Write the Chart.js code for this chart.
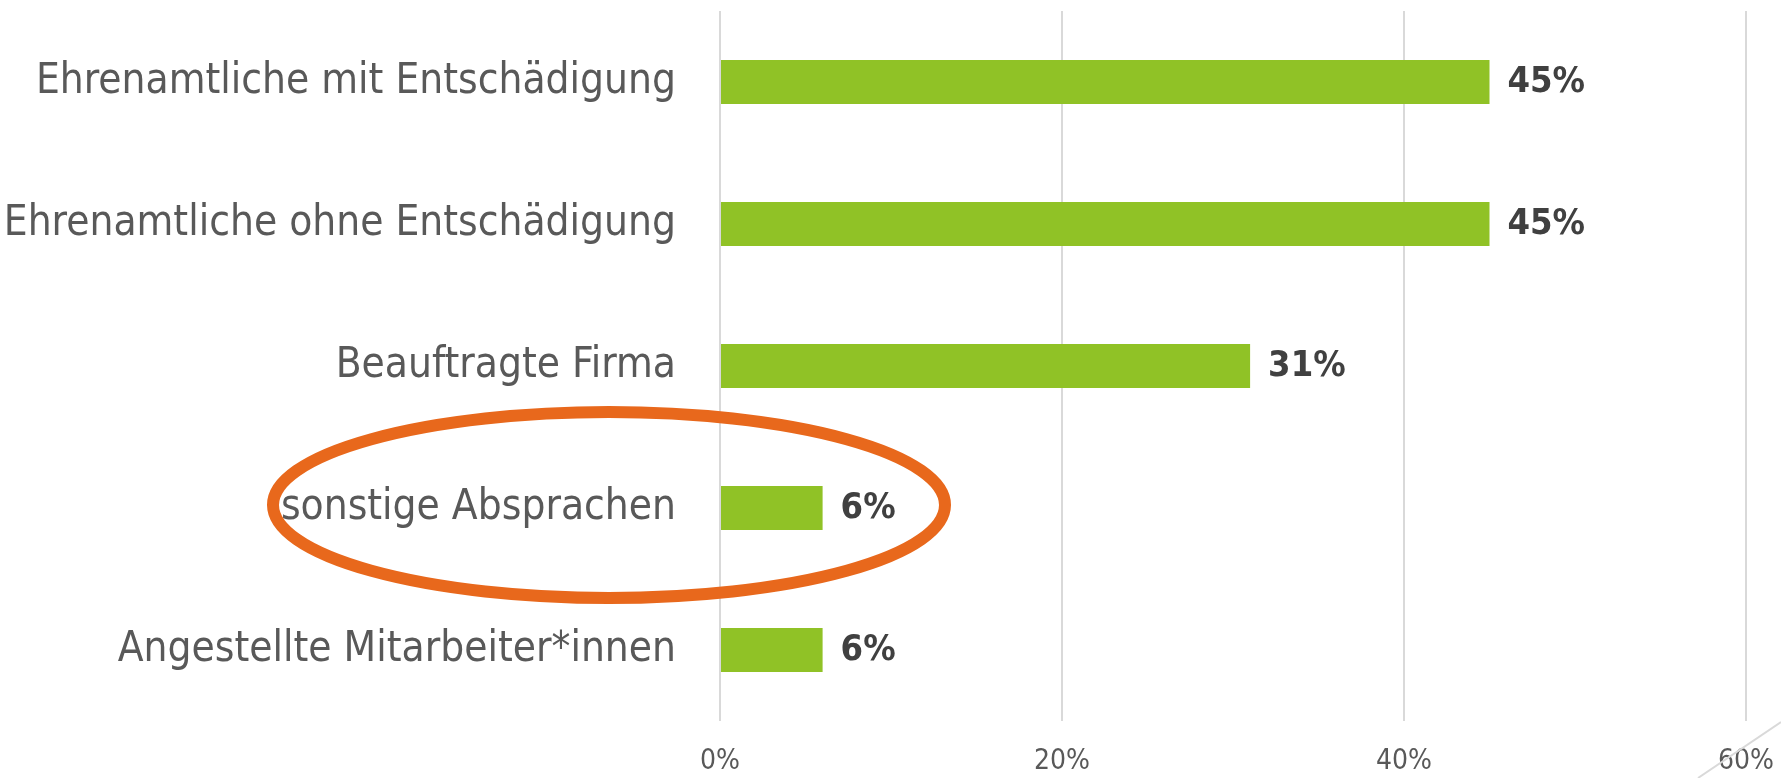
<!DOCTYPE html>
<html>
<head>
<meta charset="utf-8">
<script src="https://cdn.jsdelivr.net/npm/chart.js@4.4.0/dist/chart.umd.min.js"></script>
<style>
  body { margin: 0; background: #fff; }
  #wrap { width: 1781px; height: 778px; position: relative; }
</style>
</head>
<body>
<div id="wrap"><canvas id="chart"></canvas></div>
<script>
const categories = [
    'Ehrenamtliche mit Entschädigung',
    'Ehrenamtliche ohne Entschädigung',
    'Beauftragte Firma',
    'sonstige Absprachen',
    'Angestellte Mitarbeiter*innen'
]
const shares = [45, 45, 31, 6, 6]
const xTicks = [0, 20, 40, 60]
const highlighted = 'sonstige Absprachen'

const labelFont = "'DejaVu Sans Condensed', 'DejaVu Sans', sans-serif"

// value labels at the end of each bar
const valueLabels = {
    id: 'valueLabels',
    afterDatasetsDraw(chart) {
        const ctx = chart.ctx
        const meta = chart.getDatasetMeta(0)
        ctx.save()
        ctx.fillStyle = '#404040'
        ctx.font = 'bold 36px ' + labelFont
        ctx.textBaseline = 'middle'
        ctx.textAlign = 'left'
        meta.data.forEach((bar, i) => {
            ctx.fillText(shares[i] + '%', bar.x + 18, bar.y + 1)
        })
        ctx.restore()
    }
}

// orange ring around the highlighted category + corner line of the slide
const annotations = {
    id: 'annotations',
    afterDraw(chart) {
        const ctx = chart.ctx
        const y = chart.scales.y.getPixelForValue(categories.indexOf(highlighted))
        const left = chart.chartArea.left
        ctx.save()
        ctx.strokeStyle = '#E8681C'
        ctx.lineWidth = 12
        ctx.beginPath()
        ctx.ellipse(left - 111, y - 3, 336, 93, 0, 0, Math.PI * 2)
        ctx.stroke()

        ctx.strokeStyle = '#d9d9d9'
        ctx.lineWidth = 2
        ctx.beginPath()
        ctx.moveTo(chart.width - 83, chart.height)
        ctx.lineTo(chart.width, chart.height - 56)
        ctx.stroke()
        ctx.restore()
    }
}

const ctx = document.getElementById('chart').getContext('2d')
const myChart = new Chart(ctx, {
    type: 'bar',
    data: {
        labels: categories,
        datasets: [{
            data: shares,
            backgroundColor: '#90C226',
            borderWidth: 0,
            categoryPercentage: 1,
            barPercentage: 0.31
        }]
    },
    options: {
        indexAxis: 'y',
        responsive: true,
        maintainAspectRatio: false,
        animation: false,
        layout: { padding: { top: 11, right: 35, left: 0, bottom: 0 } },
        plugins: {
            legend: { display: false },
            tooltip: { enabled: false }
        },
        scales: {
            x: {
                min: 0,
                max: 60,
                afterBuildTicks: scale => {
                    scale.ticks = xTicks.map(v => ({ value: v }))
                },
                afterFit: scale => {
                    scale.height = 57
                    scale.paddingLeft = 0
                    scale.paddingRight = 0
                },
                grid: { color: '#d9d9d9', lineWidth: 2, drawTicks: false },
                border: { display: false },
                ticks: {
                    padding: 24,
                    color: '#595959',
                    font: { family: labelFont, size: 28 },
                    callback: v => v + '%'
                }
            },
            y: {
                afterFit: scale => {
                    scale.width = 720
                    scale.paddingTop = 0
                    scale.paddingBottom = 0
                },
                grid: { display: false },
                border: { display: false },
                ticks: {
                    padding: 36,
                    color: '#595959',
                    font: { family: labelFont, size: 42 }
                }
            }
        }
    },
    plugins: [valueLabels, annotations]
})
</script>
</body>
</html>
